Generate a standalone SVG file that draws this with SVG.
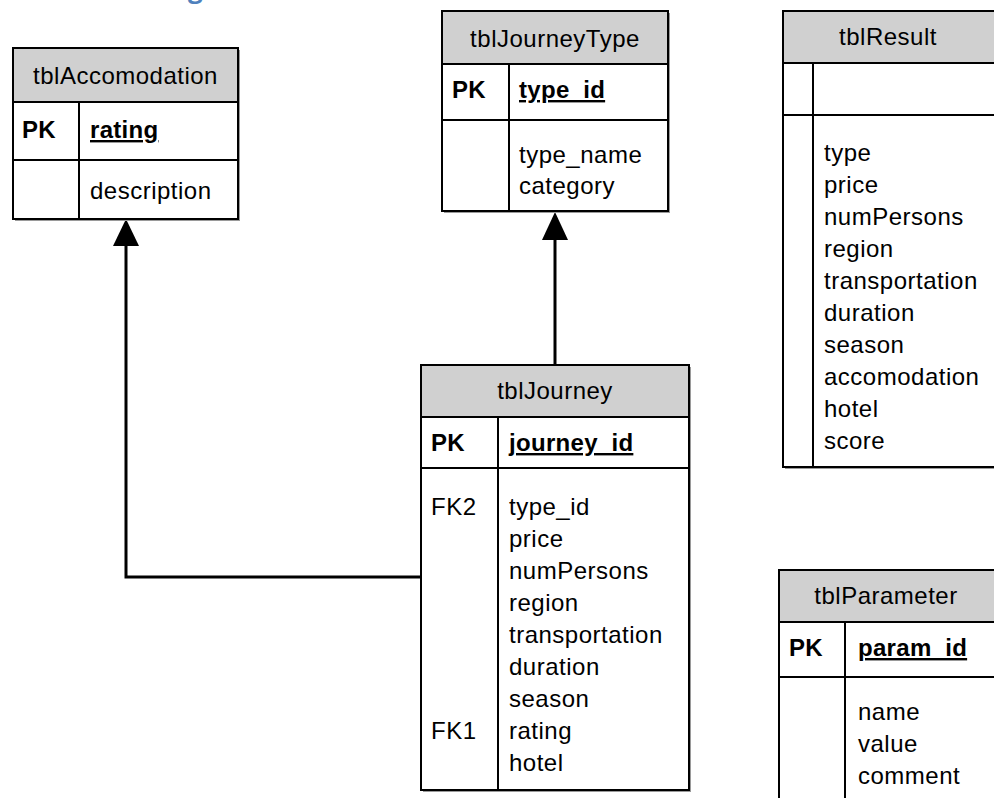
<svg xmlns="http://www.w3.org/2000/svg" width="994" height="798" viewBox="0 0 994 798">
<style>
  .box{fill:#fff;stroke:#000;stroke-width:2}
  .hdr{fill:#d0d0d0;stroke:#000;stroke-width:2}
  .shd{fill:#9a9a9a}
  .ln{stroke:#000;stroke-width:2;fill:none}
  .t{font-family:"Liberation Sans",Arial,sans-serif;font-size:24px;letter-spacing:0.5px;fill:#000}
  .c{text-anchor:middle}
  .b{font-weight:bold;letter-spacing:0.3px}
  .u{text-decoration:underline}
  .con{stroke:#000;stroke-width:3;fill:none}
  .title{font-family:"Open Sans","Liberation Sans",sans-serif;font-weight:bold;font-size:26px;fill:#4f81bd}
</style>
<rect width="994" height="798" fill="#fff"/>
<text class="title" x="188" y="-2">g</text>

<g id="connectors">
  <polyline class="con" points="421,577 126,577 126,244"/>
  <polygon points="126,219 113,246 139,246" fill="#000"/>
  <line class="con" x1="555" y1="365" x2="555" y2="238"/>
  <polygon points="555,212 542,240 568,240" fill="#000"/>
</g>

<g id="tblAccomodation">
  <rect class="shd" x="15" y="50" width="225" height="171"/>
  <rect class="box" x="13" y="48" width="225" height="171"/>
  <rect class="hdr" x="13" y="48" width="225" height="54"/>
  <line class="ln" x1="13" y1="160" x2="238" y2="160"/>
  <line class="ln" x1="79" y1="102" x2="79" y2="219"/>
  <text class="t c" x="125.5" y="84">tblAccomodation</text>
  <text class="t b" x="22" y="138">PK</text>
  <text class="t b u" x="90" y="138">rating</text>
  <text class="t" x="90" y="199">description</text>
</g>

<g id="tblJourneyType">
  <rect class="shd" x="444" y="13" width="226" height="200"/>
  <rect class="box" x="442" y="11" width="226" height="200"/>
  <rect class="hdr" x="442" y="11" width="226" height="53"/>
  <line class="ln" x1="442" y1="120" x2="668" y2="120"/>
  <line class="ln" x1="509" y1="64" x2="509" y2="211"/>
  <text class="t c" x="555" y="47">tblJourneyType</text>
  <text class="t b" x="452" y="98">PK</text>
  <text class="t b u" x="519" y="98">type_id</text>
  <text class="t" x="519" y="163">type_name</text>
  <text class="t" x="519" y="194">category</text>
</g>

<g id="tblResult">
  <rect class="shd" x="785" y="13" width="220" height="456"/>
  <rect class="box" x="783" y="11" width="220" height="456"/>
  <rect class="hdr" x="783" y="11" width="220" height="52"/>
  <line class="ln" x1="783" y1="115" x2="1003" y2="115"/>
  <line class="ln" x1="813" y1="63" x2="813" y2="467"/>
  <text class="t c" x="888" y="45">tblResult</text>
  <text class="t" x="824" y="161">type</text>
  <text class="t" x="824" y="193">price</text>
  <text class="t" x="824" y="225">numPersons</text>
  <text class="t" x="824" y="257">region</text>
  <text class="t" x="824" y="289">transportation</text>
  <text class="t" x="824" y="321">duration</text>
  <text class="t" x="824" y="353">season</text>
  <text class="t" x="824" y="385">accomodation</text>
  <text class="t" x="824" y="417">hotel</text>
  <text class="t" x="824" y="449">score</text>
</g>

<g id="tblJourney">
  <rect class="shd" x="423" y="367" width="268" height="425"/>
  <rect class="box" x="421" y="365" width="268" height="425"/>
  <rect class="hdr" x="421" y="365" width="268" height="52"/>
  <line class="ln" x1="421" y1="468" x2="689" y2="468"/>
  <line class="ln" x1="498" y1="417" x2="498" y2="790"/>
  <text class="t c" x="555" y="399">tblJourney</text>
  <text class="t b" x="431" y="451">PK</text>
  <text class="t b u" x="509" y="451">journey_id</text>
  <text class="t" x="431" y="515">FK2</text>
  <text class="t" x="431" y="739">FK1</text>
  <text class="t" x="509" y="515">type_id</text>
  <text class="t" x="509" y="547">price</text>
  <text class="t" x="509" y="579">numPersons</text>
  <text class="t" x="509" y="611">region</text>
  <text class="t" x="509" y="643">transportation</text>
  <text class="t" x="509" y="675">duration</text>
  <text class="t" x="509" y="707">season</text>
  <text class="t" x="509" y="739">rating</text>
  <text class="t" x="509" y="771">hotel</text>
</g>

<g id="tblParameter">
  <rect class="box" x="779" y="570" width="225" height="240"/>
  <rect class="hdr" x="779" y="570" width="225" height="52"/>
  <line class="ln" x1="779" y1="677" x2="1004" y2="677"/>
  <line class="ln" x1="845" y1="622" x2="845" y2="810"/>
  <text class="t c" x="886" y="604">tblParameter</text>
  <text class="t b" x="789" y="656">PK</text>
  <text class="t b u" x="858" y="656">param_id</text>
  <text class="t" x="858" y="720">name</text>
  <text class="t" x="858" y="752">value</text>
  <text class="t" x="858" y="784">comment</text>
</g>
</svg>
